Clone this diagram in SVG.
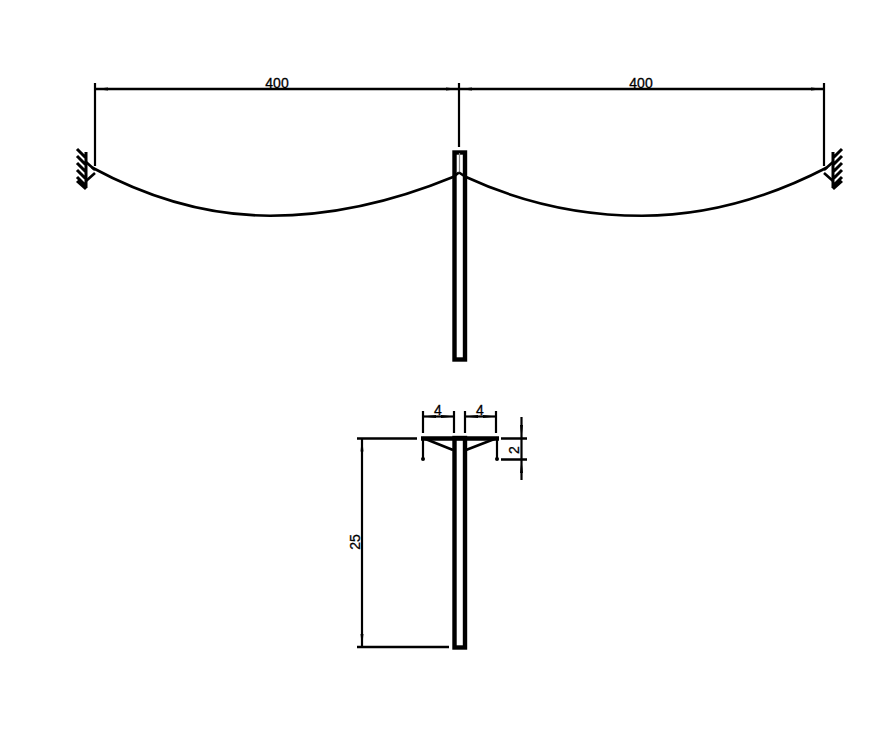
<svg xmlns="http://www.w3.org/2000/svg" width="869" height="753" viewBox="0 0 869 753">
<defs>
<style>
.l{fill:none;stroke:#000;stroke-width:2.600;stroke-linecap:butt}
.h{fill:none;stroke:#000;stroke-width:3;stroke-linecap:butt}
.t{fill:none;stroke:#000;stroke-width:4.400}
.c{fill:none;stroke:#000;stroke-width:2.600}
.d{fill:none;stroke:#000;stroke-width:2.200}
text{font-family:"Liberation Sans",Arial,sans-serif;font-size:14px;fill:#000;stroke:#000;stroke-width:.3;text-anchor:middle}
</style>
<marker id="a" markerWidth="14" markerHeight="6" refX="13" refY="3" orient="auto-start-reverse" markerUnits="userSpaceOnUse"><path d="M0 1.500L13 3L0 4.500Z" fill="#000"/></marker>
<g id="hatch"><path class="h" d="M86 152V188M77 149L86 158M77 156L86 165M77 163L86 172M77 170L86 179M77 177L86 186M77 181L86 189"/><path class="l" d="M86 162L95 170M95 173L86 181"/></g>
</defs>
<rect width="869" height="753" fill="#fff"/>
<g id="upper-span-dimensions">
<path class="d" d="M95 83V166M459 83V147M824 83V166"/>
<path class="l" d="M95 89H459" marker-start="url(#a)" marker-end="url(#a)"/>
<path class="l" d="M459 89H824" marker-start="url(#a)" marker-end="url(#a)"/>
<text x="277" y="88">400</text>
<text x="641" y="88">400</text>
</g>
<g id="left-support"><use href="#hatch"/></g>
<g id="right-support"><use href="#hatch" transform="matrix(-1 0 0 1 919 0)"/></g>
<g id="upper-pole">
<rect class="t" x="454.500" y="152.500" width="10.500" height="207"/>
<path d="M459.500 153V172" stroke="#888" stroke-width="1.200" fill="none"/>
</g>
<g id="cable">
<path class="c" d="M92 167.500Q181 215.700 270 215.700T453 177L459 172.500"/>
<path class="c" d="M459 172.500L466 177Q550 215.700 642 215.700T827 167.500"/>
</g>
<g id="lower-pole">
<rect class="t" x="454.500" y="438" width="10.500" height="209.500"/>
<path class="t" d="M421 438.500H499"/>
<path class="l" d="M423 438L453 450M497 438L466 450"/>
<path class="d" d="M423 438V459M497 438V459"/>
<circle cx="423" cy="459" r="2"/>
<circle cx="497" cy="459" r="2"/>
</g>
<g id="lower-dimensions">
<path class="d" d="M423 411V433M454 411V433M465 411V433M496 411V433"/>
<path class="d" d="M423 416.500H454" marker-start="url(#a)" marker-end="url(#a)"/>
<path class="d" d="M465 416.500H496" marker-start="url(#a)" marker-end="url(#a)"/>
<path class="l" d="M357 438.500H417M357 647H449M501 438.500H527M501 459.500H527"/>
<path class="d" d="M362 438.500V647" marker-start="url(#a)" marker-end="url(#a)"/>
<path class="d" d="M521.500 417V438" marker-end="url(#a)"/>
<path class="d" d="M521.500 480V460" marker-end="url(#a)"/>
<path class="d" d="M521.500 438V460"/>
<text x="438" y="415">4</text>
<text x="480" y="415">4</text>
<text transform="translate(519 450) rotate(-90)">2</text>
<text transform="translate(360 542) rotate(-90)">25</text>
</g>
</svg>
